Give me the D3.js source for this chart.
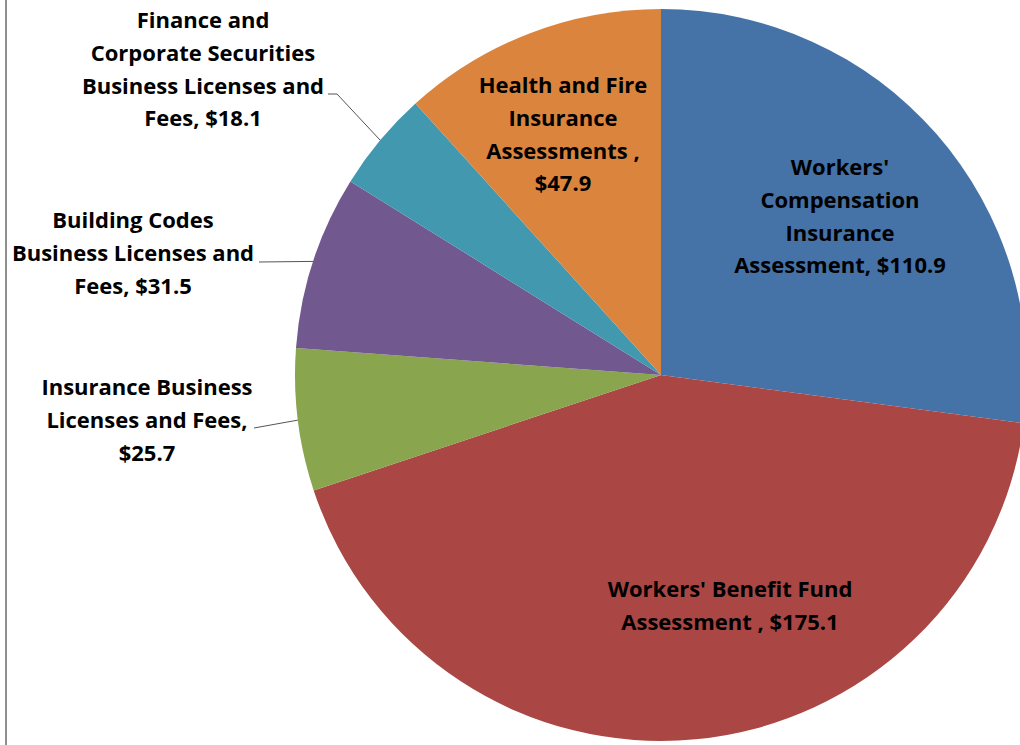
<!DOCTYPE html>
<html>
<head>
<meta charset="utf-8">
<script src="https://cdn.jsdelivr.net/npm/d3@7"></script>
<style>
  html, body { margin: 0; padding: 0; background: #fff; }
  svg { display: block; }
  text { font-family: "Open Sans", Lato, sans-serif; font-weight: bold; fill: #000; font-variant-ligatures: none; }
</style>
</head>
<body>
<svg id="chart" width="1020" height="745"></svg>
<script>
// ---- data ----
const categories = [
  "Workers' Compensation Insurance Assessment",
  "Workers' Benefit Fund Assessment",
  "Insurance Business Licenses and Fees",
  "Building Codes Business Licenses and Fees",
  "Finance and Corporate Securities Business Licenses and Fees",
  "Health and Fire Insurance Assessments"
];
const values = [110.9, 175.1, 25.7, 31.5, 18.1, 47.9];
const labelLines = [
  ["Workers'", "Compensation", "Insurance", "Assessment, $110.9"],
  ["Workers' Benefit Fund", "Assessment , $175.1"],
  ["Insurance Business", "Licenses and Fees,", "$25.7"],
  ["Building Codes", "Business Licenses and", "Fees, $31.5"],
  ["Finance and", "Corporate Securities", "Business Licenses and", "Fees, $18.1"],
  ["Health and Fire", "Insurance", "Assessments ,", "$47.9"]
];
const colors = ["#4572A7", "#AA4643", "#89A54E", "#71588F", "#4198AF", "#DB843D"];

// ---- layout ----
const cx = 661, cy = 375, R = 366;
const lineH = 32.8;
const labelLayout = [
  { x: 840, y: 175, leader: null },
  { x: 730, y: 597, leader: null },
  { x: 147, y: 395, leader: [[254, 428]] },
  { x: 133, y: 228, leader: [[259, 262]] },
  { x: 203, y: 28,  leader: [[328, 94], [337, 94]] },
  { x: 563, y: 93, leader: null }
];

const svg = d3.select("#chart");

// left border
svg.append("line")
  .attr("x1", 6).attr("x2", 6).attr("y1", 0).attr("y2", 745)
  .attr("stroke", "#8f8f8f").attr("stroke-width", 2);

const pie = d3.pie().sort(null).value(d => d)(values);
const arc = d3.arc().innerRadius(0).outerRadius(R);

const g = svg.append("g").attr("transform", `translate(${cx},${cy})`);
g.selectAll("path.slice")
  .data(pie)
  .join("path")
  .attr("class", "slice")
  .attr("d", arc)
  .attr("fill", (d, i) => colors[i]);

// leader lines
pie.forEach((d, i) => {
  const L = labelLayout[i];
  if (!L.leader) return;
  const mid = (d.startAngle + d.endAngle) / 2;
  const ex = cx + R * Math.sin(mid);
  const ey = cy - R * Math.cos(mid);
  const pts = L.leader.concat([[ex, ey]]);
  svg.append("path")
    .attr("d", d3.line()(pts))
    .attr("fill", "none")
    .attr("stroke", "#555")
    .attr("stroke-width", 1);
});

// labels
labelLines.forEach((lines, i) => {
  const L = labelLayout[i];
  const t = svg.append("text")
    .attr("text-anchor", "middle")
    .attr("font-size", 22);
  lines.forEach((ln, j) => {
    t.append("tspan")
      .attr("x", L.x)
      .attr("y", L.y + j * lineH)
      .text(ln);
  });
});
</script>
</body>
</html>
